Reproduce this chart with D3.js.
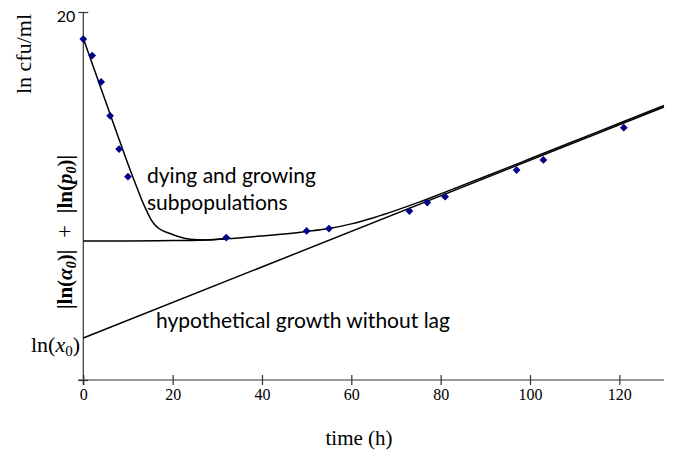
<!DOCTYPE html>
<html><head><meta charset="utf-8">
<script src="https://cdn.jsdelivr.net/npm/d3@7"></script>
<style>
body{margin:0;background:#fff;}
svg{display:block;}
</style></head>
<body><svg id="c" width="674" height="455"></svg>
<script>
// ---- data ----
const times = [0, 2, 4, 6, 8, 10, 32, 50, 55, 73, 77, 81, 97, 103, 121];
const lnCfu = [18.53, 17.63, 16.20, 14.36, 12.55, 11.05, 7.74, 8.10, 8.23, 9.18, 9.64, 9.96, 11.41, 11.96, 13.71];

const dyingT = [0, 2, 4, 6, 8, 10, 11, 12, 13, 14, 15, 16, 17, 19.4, 21.6, 24, 27, 32];
const dyingV = [18.56, 17.19, 15.82, 14.45, 13.08, 11.74, 11.09, 10.46, 9.84, 9.29, 8.79, 8.44, 8.22, 7.96, 7.77, 7.65, 7.61, 7.674];

const lagT = [0, 10, 20, 26, 32, 40, 45, 50, 55, 60, 65, 70, 75, 80, 90, 100, 110, 120, 130];
const lagV = [7.554, 7.554, 7.576, 7.598, 7.674, 7.826, 7.935, 8.071, 8.228, 8.484, 8.821, 9.217, 9.652, 10.114, 11.06, 12.022, 12.989, 13.951, 14.918];

const noLagT = [0, 130];
const noLagV = [2.28, 14.84];

const xTicks = [0, 20, 40, 60, 80, 100, 120];
const yTicks = [0, 20];
const yTickLabels = ["", "20"];

// ---- drawing ----
const svg = d3.select("#c");
const x = d3.scaleLinear().domain([0, 130]).range([83.3, 664]);
const y = d3.scaleLinear().domain([0, 20]).range([380, 12]);
const serif = "'Liberation Serif','Times New Roman',serif";
const sans = "Lato,'Open Sans',sans-serif";
const axisCol = "#333";

// x axis
const gx = svg.append("g").attr("transform", "translate(0,380)")
  .call(d3.axisBottom(x).tickValues(xTicks).tickSize(5).tickSizeOuter(0));
gx.select(".domain").remove();
gx.append("line").attr("x1", x(0) - 5).attr("x2", x(130)).attr("stroke", axisCol).attr("stroke-width", 1.2);
gx.selectAll(".tick line").attr("y1", -5).attr("y2", 5).attr("stroke", axisCol).attr("stroke-width", 1.2);
gx.selectAll(".tick text").attr("y", 20).attr("dy", 0)
  .style("font-family", serif).style("font-size", "16px").attr("fill", "#000");

// y axis
const gy = svg.append("g").attr("transform", "translate(" + x(0) + ",0)")
  .call(d3.axisLeft(y).tickValues(yTicks).tickSize(5).tickSizeOuter(0).tickFormat((d, i) => yTickLabels[i]));
gy.select(".domain").remove();
gy.append("line").attr("y1", y(20)).attr("y2", y(0) + 5).attr("stroke", axisCol).attr("stroke-width", 1.2);
gy.selectAll(".tick line").attr("x1", -5).attr("x2", 5).attr("stroke", axisCol).attr("stroke-width", 1.2);
gy.selectAll(".tick text").attr("x", -8).attr("dy", "0.62em")
  .style("font-family", sans).style("font-size", "16px").attr("fill", "#000");

// lines
const line = d3.line().x(d => x(d[0])).y(d => y(d[1])).curve(d3.curveMonotoneX);
function draw(ts, vs) {
  svg.append("path").datum(ts.map((t, i) => [t, vs[i]]))
    .attr("d", line).attr("fill", "none").attr("stroke", "#000").attr("stroke-width", 1.5);
}
draw(noLagT, noLagV);
draw(lagT, lagV);
draw(dyingT, dyingV);

// markers
svg.append("g").selectAll("path").data(times.map((t, i) => [t, lnCfu[i]])).join("path")
  .attr("d", d3.symbol(d3.symbolSquare, 30)())
  .attr("transform", d => "translate(" + x(d[0]) + "," + y(d[1]) + ") rotate(45)")
  .attr("fill", "#00008b");

// annotations
const ann = svg.append("g").style("font-family", sans).style("font-size", "21px").attr("fill", "#000");
ann.append("text").attr("x", 147).attr("y", 183).text("dying and growing");
ann.append("text").attr("x", 147).attr("y", 210).text("subpopulations");
ann.append("text").attr("x", 156).attr("y", 328).text("hypothetical growth without lag");

// axis titles
svg.append("text").attr("x", 359).attr("y", 445).attr("text-anchor", "middle")
  .style("font-family", serif).style("font-size", "21px").text("time (h)");

svg.append("text").attr("transform", "translate(31,54) rotate(-90)").attr("text-anchor", "middle")
  .style("font-family", serif).style("font-size", "22px").text("ln cfu/ml");

const t2 = svg.append("text").attr("transform", "translate(72,232) rotate(-90)").attr("text-anchor", "middle")
  .style("font-family", serif).style("font-size", "21px").style("font-weight", "bold");
t2.append("tspan").text("|ln(");
t2.append("tspan").style("font-style", "italic").text("α");
t2.append("tspan").style("font-style", "italic").style("font-size", "14px").attr("dy", 4).text("0");
t2.append("tspan").attr("dy", -4).text(")|");
t2.append("tspan").style("font-weight", "normal").style("font-size", "23px").attr("dx", 6).text(" + ");
t2.append("tspan").attr("dx", 6).text("|ln(");
t2.append("tspan").style("font-style", "italic").text("p");
t2.append("tspan").style("font-style", "italic").style("font-size", "14px").attr("dy", 4).text("0");
t2.append("tspan").attr("dy", -4).text(")|");

const t3 = svg.append("text").attr("x", 80).attr("y", 352).attr("text-anchor", "end")
  .style("font-family", serif).style("font-size", "22px");
t3.append("tspan").text("ln(");
t3.append("tspan").style("font-style", "italic").text("x");
t3.append("tspan").style("font-size", "15px").attr("dy", 4).text("0");
t3.append("tspan").attr("dy", -4).text(")");
</script>
</body></html>
